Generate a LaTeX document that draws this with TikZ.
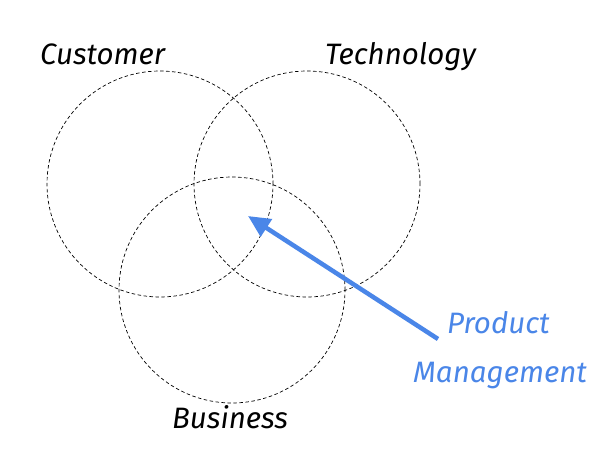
\documentclass[tikz,border=0pt]{standalone}
\usepackage{fontspec}
\setmainfont{Fira Sans}
\newfontfamily\handfont{Fira Sans Italic}
\definecolor{pmblue}{HTML}{4A86E8}
\usetikzlibrary{arrows.meta}
\tikzset{
  venn/.style={draw=black, line width=0.7pt, dash pattern=on 3.5pt off 2.5pt},
  lbl/.style={font=\handfont\fontsize{29.5}{33}\selectfont, inner sep=0pt},
  pm/.style={lbl, text=pmblue, align=left},
  pmarrow/.style={draw=pmblue, line width=4.5pt, -{Triangle[length=22pt,width=20pt]}}
}
\begin{document}
\begin{tikzpicture}[x=1pt,y=-1pt]
\useasboundingbox (0,0) rectangle (612,471);
\fill[white] (0,0) rectangle (612,471);
\node[venn, circle, minimum size=226pt] (cust) at (160,184) {};
\node[venn, circle, minimum size=226pt] (tech) at (307,184) {};
\node[venn, circle, minimum size=226pt] (bus) at (232,290) {};
\node[lbl, anchor=base west] (tcust) at (40,64) {Customer};
\node[lbl, anchor=base west] (ttech) at (325,64) {Technology};
\node[lbl, anchor=base west] (tbus) at (172,428) {Business};
\node[pm, anchor=base west] (tprod) at (447,333) {Product};
\node[pm, anchor=base west] (tman) at (413,382) {Management};
\coordinate (tip) at (248,216);
\coordinate (tail) at (438,339);
\draw[pmarrow] (tail) -- (tip);
\end{tikzpicture}
\end{document}
